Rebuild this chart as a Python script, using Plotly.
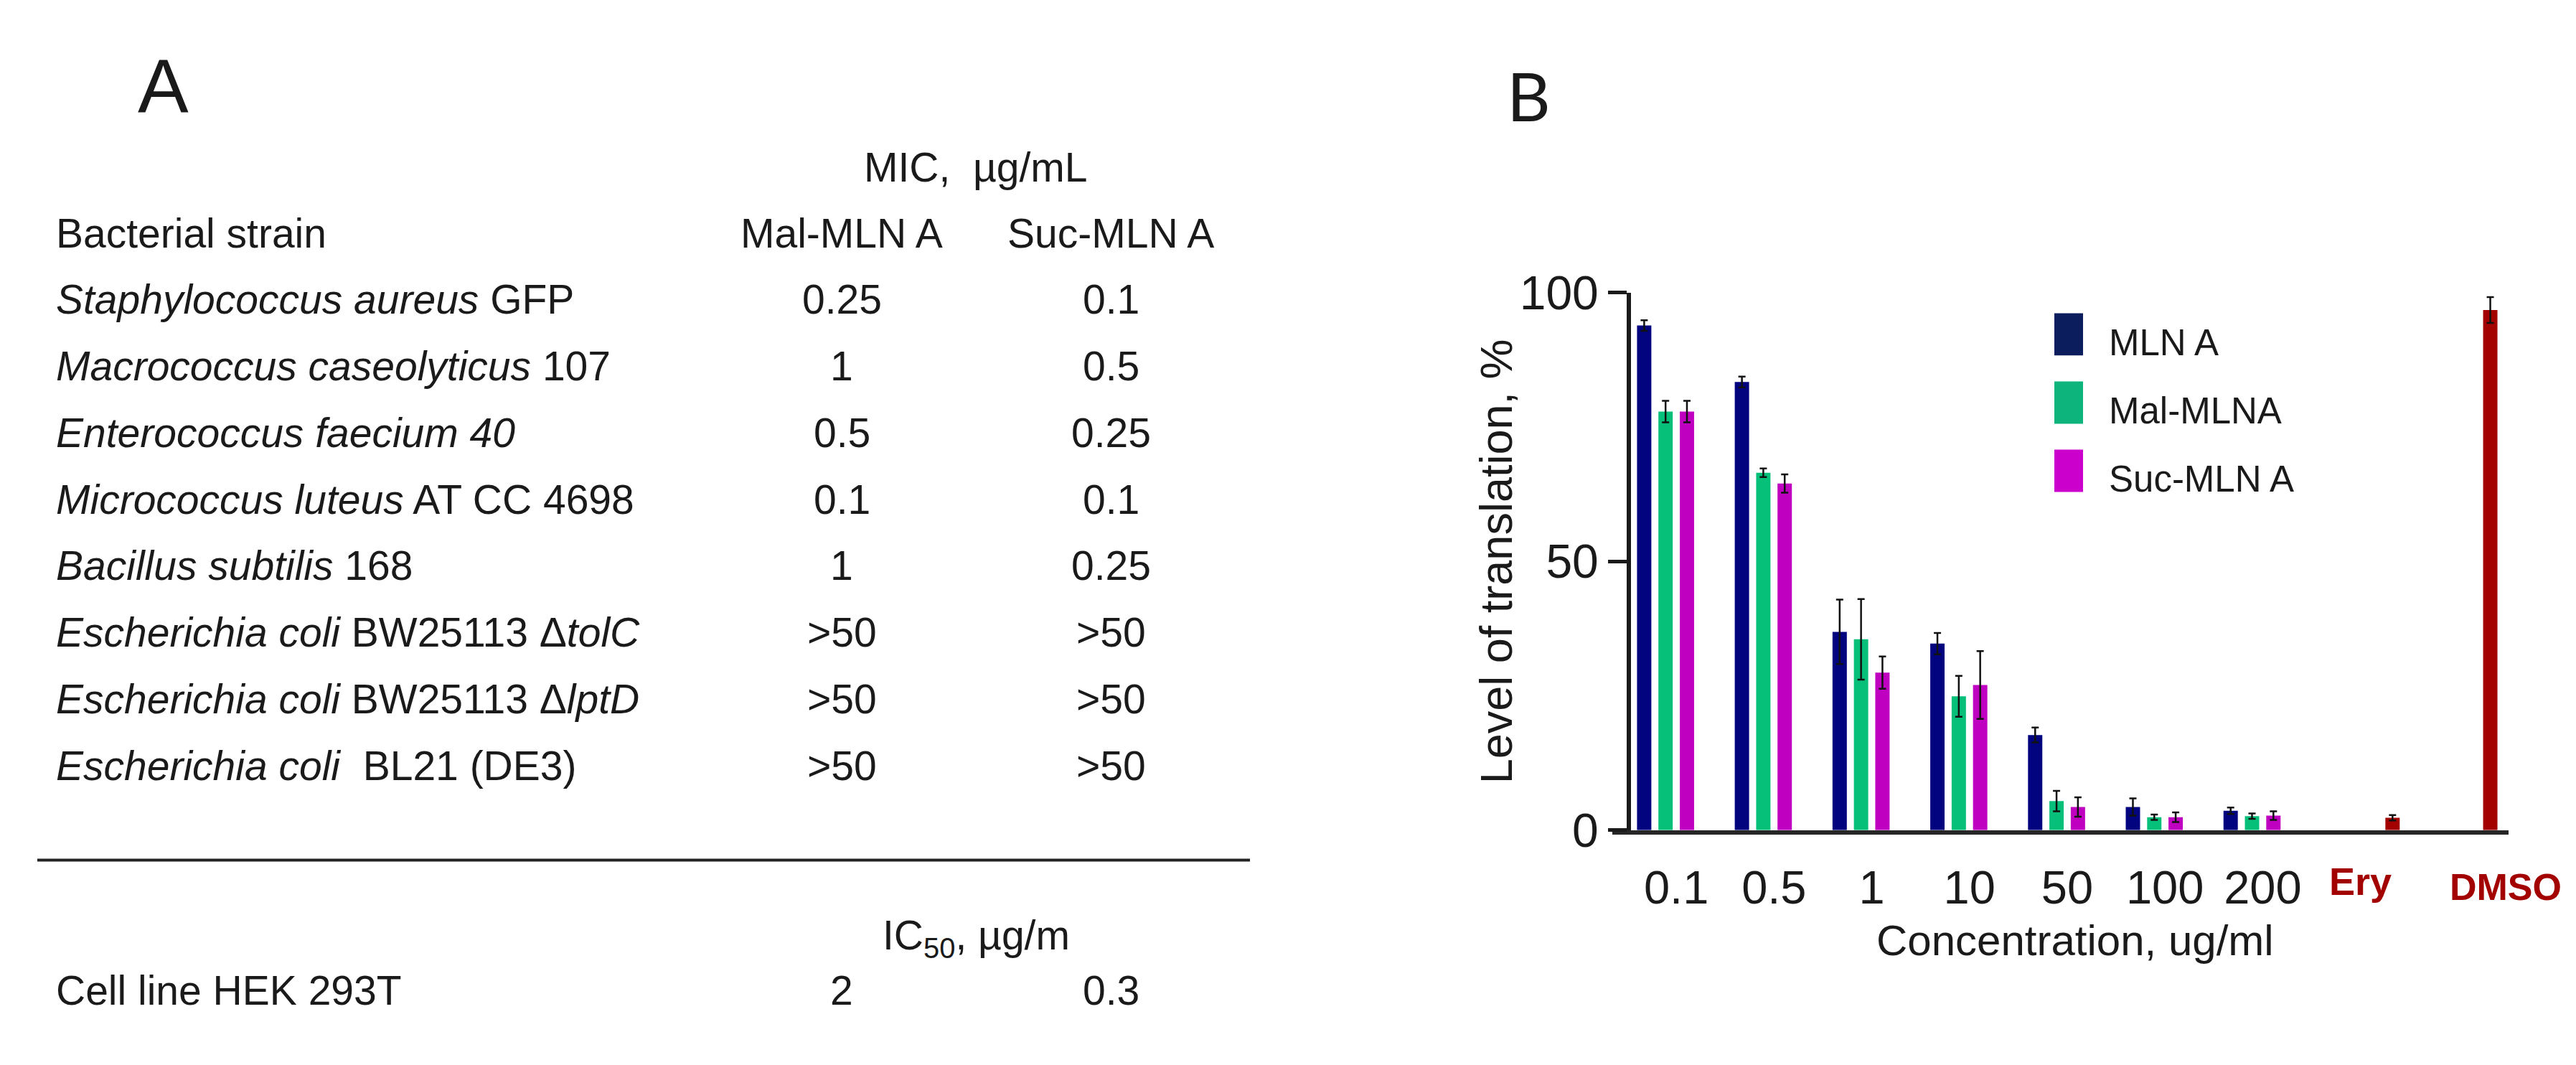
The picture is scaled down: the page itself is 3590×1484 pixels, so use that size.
import plotly.graph_objects as go

W, H = 3590, 1484
FONT = "Liberation Sans, Arial, sans-serif"
INK = "#1a1a1a"


def px(x):
    return x / W


def py(y):
    return 1 - y / H


# ---------------- Panel A data (table) ----------------
strains = [
    "<i>Staphylococcus aureus</i> GFP",
    "<i>Macrococcus caseolyticus</i> 107",
    "<i>Enterococcus faecium 40</i>",
    "<i>Micrococcus luteus</i> AT CC 4698",
    "<i>Bacillus subtilis</i> 168",
    "<i>Escherichia coli</i> BW25113 Δ<i>tolC</i>",
    "<i>Escherichia coli</i> BW25113 Δ<i>lptD</i>",
    "<i>Escherichia coli</i>\u00a0 BL21 (DE3)",
]
mic_mal = ["0.25", "1", "0.5", "0.1", "1", ">50", ">50", ">50"]
mic_suc = ["0.1", "0.5", "0.25", "0.1", "0.25", ">50", ">50", ">50"]
cell_line = "Cell line HEK 293T"
ic50_mal = "2"
ic50_suc = "0.3"

# ---------------- Panel B data (bar chart) ----------------
categories = ["0.1", "0.5", "1", "10", "50", "100", "200", "Ery", "DMSO"]
conc_labels = ["0.1", "0.5", "1", "10", "50", "100", "200"]
mln_a = [93.9, 83.4, 36.9, 34.7, 17.7, 4.3, 3.6, None, None]
mln_a_err = [1.0, 1.0, 6.0, 2.0, 1.4, 1.6, 0.6, 0, 0]
mal_mln_a = [77.9, 66.5, 35.5, 24.9, 5.4, 2.4, 2.6, None, None]
mal_mln_a_err = [2.0, 0.8, 7.5, 3.8, 1.9, 0.5, 0.5, 0, 0]
suc_mln_a = [77.9, 64.5, 29.3, 27.0, 4.3, 2.4, 2.7, None, None]
suc_mln_a_err = [2.0, 1.7, 3.0, 6.3, 1.8, 0.9, 0.8, 0, 0]
controls = [None, None, None, None, None, None, None, 2.3, 96.8]
controls_err = [0, 0, 0, 0, 0, 0, 0, 0.5, 2.4]

series_names = ["MLN A", "Mal-MLNA", "Suc-MLN A"]
series_colors = ["#02037f", "#06c07a", "#c000c0"]
legend_colors = ["#0c1d5e", "#0db47c", "#cc00cc"]
control_color = "#a30000"

fig = go.Figure()

ebar = dict(type="data", thickness=2.5, width=5, color="#111111")
for name, vals, errs, col in zip(
    series_names,
    [mln_a, mal_mln_a, suc_mln_a],
    [mln_a_err, mal_mln_a_err, suc_mln_a_err],
    series_colors,
):
    fig.add_trace(
        go.Bar(
            x=categories,
            y=vals,
            name=name,
            marker=dict(color=col, line=dict(width=0)),
            error_y=dict(array=errs, **ebar),
            showlegend=False,
        )
    )
fig.add_trace(
    go.Bar(
        x=categories,
        y=controls,
        name="control",
        marker=dict(color=control_color, line=dict(width=0)),
        error_y=dict(array=controls_err, **ebar),
        showlegend=False,
    )
)

annotations = []
shapes = []


def T(x, y, text, size, xanchor="left", color=INK, family=FONT, **kw):
    annotations.append(
        dict(
            x=px(x), y=py(y), xref="paper", yref="paper", text=text,
            showarrow=False, xanchor=xanchor, yanchor="middle",
            font=dict(size=size, color=color, family=family), **kw
        )
    )


# ---- Panel A ----
TS = 57
COL1, COL2 = 1165, 1540
T(219, 78, "A", 106, xanchor="center")
T(1352, 198, "MIC,  µg/mL", TS, xanchor="center")
T(68, 295, "Bacterial strain", TS)
T(COL1, 295, "Mal-MLN A", TS, xanchor="center")
T(COL2, 295, "Suc-MLN A", TS, xanchor="center")
row0, dy = 392, 97.6
for i, (s, a, b) in enumerate(zip(strains, mic_mal, mic_suc)):
    y = row0 + i * dy
    T(68, y, s, TS)
    T(COL1, y, a, TS, xanchor="center")
    T(COL2, y, b, TS, xanchor="center")

shapes.append(dict(type="line", xref="paper", yref="paper",
                   x0=px(44), x1=px(1734), y0=py(1214), y1=py(1214),
                   line=dict(color="#222222", width=4)))
T(1352, 1328, "IC<sub>50</sub>, µg/m", TS, xanchor="center")
T(68, 1405, cell_line, TS)
T(COL1, 1405, ic50_mal, TS, xanchor="center")
T(COL2, 1405, ic50_suc, TS, xanchor="center")

# ---- Panel B ----
T(2122, 92, "B", 94, xanchor="center", family="Lato, Open Sans, sans-serif")
T(2077, 776, "Level of translation, %", 63, xanchor="center", textangle=-90)
T(2884, 1332, "Concentration, ug/ml", 60, xanchor="center")

# Ery / DMSO category labels (bold red)
annotations.append(dict(x="Ery", y=py(1245), xref="x", yref="paper",
                        text="<b>Ery</b>", showarrow=False, xanchor="center",
                        yanchor="middle",
                        font=dict(size=54, color=control_color, family=FONT)))
annotations.append(dict(x="DMSO", y=py(1253), xref="x", yref="paper",
                        text="<b>DMSO</b>", showarrow=False, xanchor="center",
                        yanchor="middle", xshift=66,
                        font=dict(size=52, color=control_color, family=FONT)))

# manual legend
leg_y = [443, 543, 643]
for name, col, yc in zip(series_names, legend_colors, leg_y):
    shapes.append(dict(type="rect", xref="paper", yref="paper",
                       x0=px(2855), x1=px(2895), y0=py(yc - 31), y1=py(yc + 31),
                       fillcolor=col, line=dict(width=0)))
    T(2929, yc + 12, name, 51)

fig.update_layout(
    width=W, height=H,
    margin=dict(l=0, r=0, t=0, b=0),
    paper_bgcolor="white", plot_bgcolor="white",
    barmode="group", bargap=0.125, bargroupgap=0.33,
    annotations=annotations, shapes=shapes,
    showlegend=False,
    font=dict(family=FONT, color=INK),
    xaxis=dict(
        domain=[px(2239), px(3488)],
        range=[-0.654, 8.515],
        type="category",
        categoryorder="array", categoryarray=categories,
        tickmode="array", tickvals=conc_labels, ticktext=conc_labels,
        ticks="", showgrid=False, zeroline=False,
        showline=True, linewidth=6, linecolor="#262626",
        tickfont=dict(size=65, color=INK, family=FONT),
        ticklabelstandoff=18,
        anchor="y",
    ),
    yaxis=dict(
        domain=[py(1170), py(382)],
        range=[0, 100],
        anchor="free", position=px(2262),
        tickmode="array", tickvals=[0, 50, 100],
        ticks="outside", ticklen=26, tickwidth=5, tickcolor="#1a1a1a",
        showgrid=False, zeroline=False,
        showline=True, linewidth=6, linecolor="#1a1a1a",
        tickfont=dict(size=66, color=INK, family=FONT),
    ),
)

fig.write_html("out.html")
